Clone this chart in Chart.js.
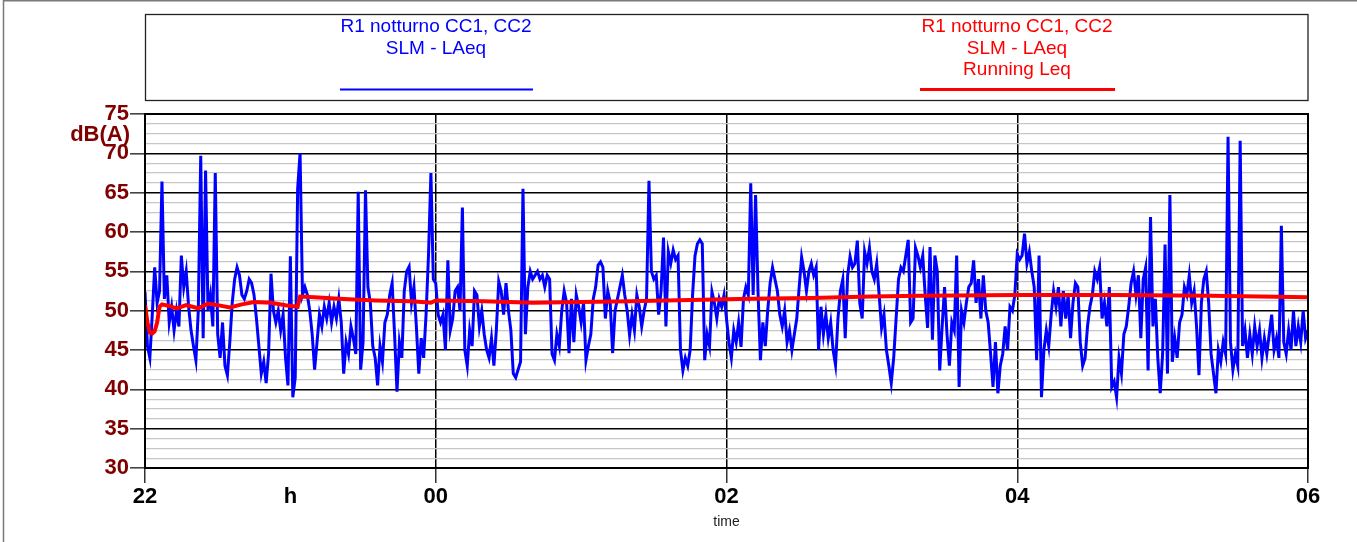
<!DOCTYPE html>
<html>
<head>
<meta charset="utf-8">
<script src="https://cdn.jsdelivr.net/npm/chart.js@4.4.0/dist/chart.umd.min.js"></script>
<style>
  html, body { margin: 0; padding: 0; background: #fff; }
  #wrap { width: 1357px; height: 542px; position: relative; }
</style>
</head>
<body>
<div id="wrap"><canvas id="chart-item"></canvas></div>
<script>
// ----- data -----
// LAeq one value per minute, from 22:00 (index 0) to 06:00 (index 480)
var laeqMinute = [
  52.4, 45.5, 44, 49.5, 55.5, 51, 52.5, 66.4, 51.5, 54.5, 48.5, 50.5, 47.5, 50, 48, 57, 53, 55, 50.5, 47.5,
  45.5, 43.7, 50, 69.7, 46.5, 67.8, 50, 52, 48, 67.5, 47, 44, 48.5, 43, 41.8, 46, 51, 54, 55.5, 54.5,
  52, 51.5, 52.5, 54, 53.5, 52, 49, 45.5, 42, 43.5, 40.8, 44.5, 54.7, 50, 48.5, 50, 47.5, 49.5, 44, 40.5,
  56.9, 39, 41.5, 65.5, 70, 52, 53, 52, 50, 47, 42.5, 46, 49.5, 48, 50.5, 49, 51, 48.5, 50.5, 49,
  51.5, 48.5, 42, 46, 44.5, 48, 46.5, 44.5, 65.1, 42.5, 46, 65.3, 53, 51, 45.5, 44, 40.5, 45.5, 43.5, 48.5,
  49.5, 52, 53.5, 47, 39.7, 46, 44, 52.5, 55, 55.6, 51, 53, 48, 42, 46.5, 44, 49.5, 57, 67.5, 54,
  53.5, 49.5, 48.5, 49.5, 45, 56.4, 47.5, 49, 52.5, 53, 50, 63.1, 45, 43, 47.5, 45.5, 52.5, 52, 48, 50,
  47, 45, 44, 46.5, 43, 47.5, 53.7, 52.5, 49.5, 53.5, 50, 47.5, 42, 41.5, 42.5, 43.5, 65.5, 47, 53, 55,
  54, 54.5, 55, 54, 54.5, 53, 54.5, 54, 44.5, 43.7, 47, 45.5, 50, 52.5, 51, 44.6, 51.5, 46, 52, 50.5,
  48.5, 51, 43.7, 45.5, 47, 51.5, 53, 55.8, 56.2, 55.5, 49, 52.5, 51, 44.6, 50, 51.5, 53, 54.5, 52, 50,
  46.9, 49.5, 47.5, 52, 50.5, 48, 50, 51.5, 66.5, 55, 54, 54.5, 49.5, 52.5, 59.3, 48, 57.5, 56, 57.7, 56.5,
  57, 45, 42.4, 44, 43, 45, 52, 57, 58.5, 59, 58.5, 43.7, 47, 45.5, 52.4, 51, 49, 51.5, 50.5, 52,
  49, 46, 44, 47.5, 46, 48.5, 45.4, 51.5, 53, 52, 66.2, 52, 64.7, 52.5, 43.7, 48.5, 45.5, 50, 53.5, 55.5,
  54, 52.5, 49.5, 48, 50, 46, 47.5, 45, 47, 49, 53, 56.8, 55, 52.5, 55, 56, 54.5, 55.5, 45, 50.5,
  47, 49.5, 46.5, 48.5, 45, 43.1, 49, 52.5, 54, 46.5, 54.5, 56.9, 55.5, 56, 58.9, 51, 49, 57.5, 56, 58,
  55, 54, 56, 52, 47.8, 49.5, 45, 43, 40.8, 44, 49, 54, 55.5, 55, 57, 59, 48.5, 49, 58, 57,
  55.5, 57, 52, 47.8, 58.1, 46.3, 57, 55, 42.4, 48, 53, 47, 43, 48.5, 47.5, 57, 40.3, 50, 48.5, 51,
  53, 53.5, 56.4, 51, 54, 49, 54.5, 50, 48.5, 44.5, 40.3, 46, 39.5, 43, 44.5, 48, 45, 50.5, 50, 52,
  57.2, 56.5, 57, 59.8, 56, 57.5, 55, 53, 43.7, 57, 39, 45, 47.5, 45.5, 49.5, 52.5, 50.5, 53, 48, 52.5,
  49, 52, 46.5, 51, 53.5, 53, 46, 43, 44, 48, 50.5, 52, 55, 54, 55.5, 49, 51, 48, 53, 40.3,
  41, 39, 44, 42, 47, 48, 50.5, 53.5, 55, 52, 54.5, 46.5, 54, 55.5, 42.4, 61.9, 48, 51.5, 44, 39.5,
  44.5, 58.4, 42, 64.7, 43.5, 46.5, 44, 48.5, 49.5, 53, 52, 54.5, 51, 52.5, 48, 41.8, 51, 54, 55, 51,
  44.5, 42, 39.5, 45, 43.5, 46, 44.5, 72.1, 46, 42.5, 44.5, 43, 71.6, 45.5, 47.5, 44, 47, 44.5, 48, 45.5,
  47.5, 44, 46.5, 44.5, 47, 49.5, 45, 46.5, 44, 60.8, 46, 44.5, 47.5, 45, 50, 45.5, 48, 46, 50, 46.5, 47.5
]

// Running Leq (minutes from 22:00 / dB)
var leqMinute = [0, 1, 2, 3, 4, 5, 6, 7, 10, 13, 17, 22, 26, 30, 35, 40, 45, 52, 58, 63, 64, 70, 80, 95, 110, 118, 120, 140, 160, 180, 200, 215, 230, 250, 275, 300, 320, 360, 400, 440, 480]
var leqValue = [50.7, 48.5, 47.2, 47.1, 47.4, 48.5, 50.5, 50.8, 50.6, 50.3, 50.7, 50.3, 50.9, 50.7, 50.4, 50.8, 51.1, 51.0, 50.7, 50.5, 51.8, 51.7, 51.5, 51.3, 51.2, 51.0, 51.3, 51.2, 51.0, 51.1, 51.2, 51.3, 51.4, 51.5, 51.6, 51.8, 51.9, 52.0, 52.0, 51.9, 51.7]

var hourLabels = ['22', 'h', '00', '', '02', '', '04', '', '06']
var yMin = 30, yMax = 75, yStep = 1.25

// ----- chart -----
function toPoints(times, values) {
    return values.map(function (v, i) {
        return { x: times ? times[i] / 60 : i / 60, y: v }
    })
}

var frameAndLegend = {
    id: 'frameAndLegend',
    afterDraw: function (chart) {
        var c = chart.ctx
        c.save()
        // outer frame (top + left)
        c.strokeStyle = '#7a7a7a'
        c.lineWidth = 1.5
        c.beginPath()
        c.moveTo(3.5, 542); c.lineTo(3.5, 0.75); c.lineTo(1357, 0.75)
        c.stroke()

        // legend box
        c.strokeStyle = '#222'
        c.lineWidth = 1.3
        c.strokeRect(145.5, 14.5, 1162.5, 86)

        c.font = '19px "Liberation Sans", Arial, sans-serif'
        c.textAlign = 'center'
        c.textBaseline = 'alphabetic'
        c.fillStyle = '#0000ff'
        c.fillText('R1 notturno CC1, CC2', 436, 32)
        c.fillText('SLM - LAeq', 436, 53.5)
        c.fillStyle = '#ff0000'
        c.fillText('R1 notturno CC1, CC2', 1017, 32)
        c.fillText('SLM - LAeq', 1017, 53.5)
        c.fillText('Running Leq', 1017, 75)

        c.lineWidth = 2
        c.strokeStyle = '#0000ff'
        c.beginPath(); c.moveTo(340, 89.5); c.lineTo(533, 89.5); c.stroke()
        c.lineWidth = 3
        c.strokeStyle = '#ff0000'
        c.beginPath(); c.moveTo(920, 89.5); c.lineTo(1115, 89.5); c.stroke()

        // unit label
        c.font = 'bold 22px "Liberation Sans", Arial, sans-serif'
        c.textAlign = 'right'
        c.fillStyle = '#800000'
        c.fillText('dB(A)', 130, 141)

        // plot frame
        var a = chart.chartArea
        c.strokeStyle = '#000'
        c.lineWidth = 2
        c.strokeRect(a.left, a.top, a.right - a.left, a.bottom - a.top)
        c.restore()
    }
}

const ctx = document.getElementById('chart-item').getContext('2d')
const myChart = new Chart(ctx, {
    type: 'line',
    data: {
        datasets: [{
            label: 'Running Leq',
            data: toPoints(leqMinute, leqValue),
            borderColor: '#ff0000',
            borderWidth: 4,
            pointRadius: 0,
            tension: 0
        }, {
            label: 'SLM - LAeq',
            data: toPoints(null, laeqMinute),
            borderColor: '#0000ff',
            borderWidth: 3,
            pointRadius: 0,
            tension: 0
        }]
    },
    plugins: [frameAndLegend],
    options: {
        responsive: true,
        maintainAspectRatio: false,
        animation: false,
        events: [],
        layout: { padding: { left: 0, top: 114, right: 49, bottom: 0 } },
        plugins: { legend: { display: false }, tooltip: { enabled: false } },
        scales: {
            x: {
                type: 'linear',
                min: 0,
                max: 8,
                afterFit: function (s) { s.height = 74 },
                ticks: {
                    stepSize: 1,
                    autoSkip: false,
                    maxRotation: 0,
                    padding: 1,
                    color: '#000',
                    font: { family: '"Liberation Sans", Arial, sans-serif', size: 22, weight: 'bold' },
                    callback: function (v) { return hourLabels[v] }
                },
                grid: {
                    tickLength: 15,
                    color: function (c) { return c.tick && c.tick.value % 2 === 0 ? '#000' : 'rgba(0,0,0,0)' },
                    tickColor: function (c) { return c.tick && c.tick.value % 2 === 0 ? '#333' : 'rgba(0,0,0,0)' },
                    lineWidth: 1.5
                },
                border: { display: false },
                title: {
                    display: true,
                    text: 'time',
                    color: '#222',
                    font: { family: '"Liberation Sans", Arial, sans-serif', size: 14 },
                    padding: { top: 2, bottom: 11 }
                }
            },
            y: {
                min: yMin,
                max: yMax,
                afterFit: function (s) { s.width = 145 },
                ticks: {
                    stepSize: yStep,
                    autoSkip: false,
                    padding: 1,
                    color: '#800000',
                    font: { family: '"Liberation Sans", Arial, sans-serif', size: 22, weight: 'bold' },
                    callback: function (v) { return v % 5 === 0 ? v : '' }
                },
                grid: {
                    tickLength: 15,
                    color: function (c) { return c.tick && c.tick.value % 5 === 0 ? '#000' : '#c6c6c6' },
                    tickColor: function (c) { return c.tick && c.tick.value % 5 === 0 ? '#444' : 'rgba(0,0,0,0)' },
                    lineWidth: function (c) { return c.tick && c.tick.value % 5 === 0 ? 1.6 : 1.3 }
                },
                border: { display: false }
            }
        }
    }
})
</script>
</body>
</html>
